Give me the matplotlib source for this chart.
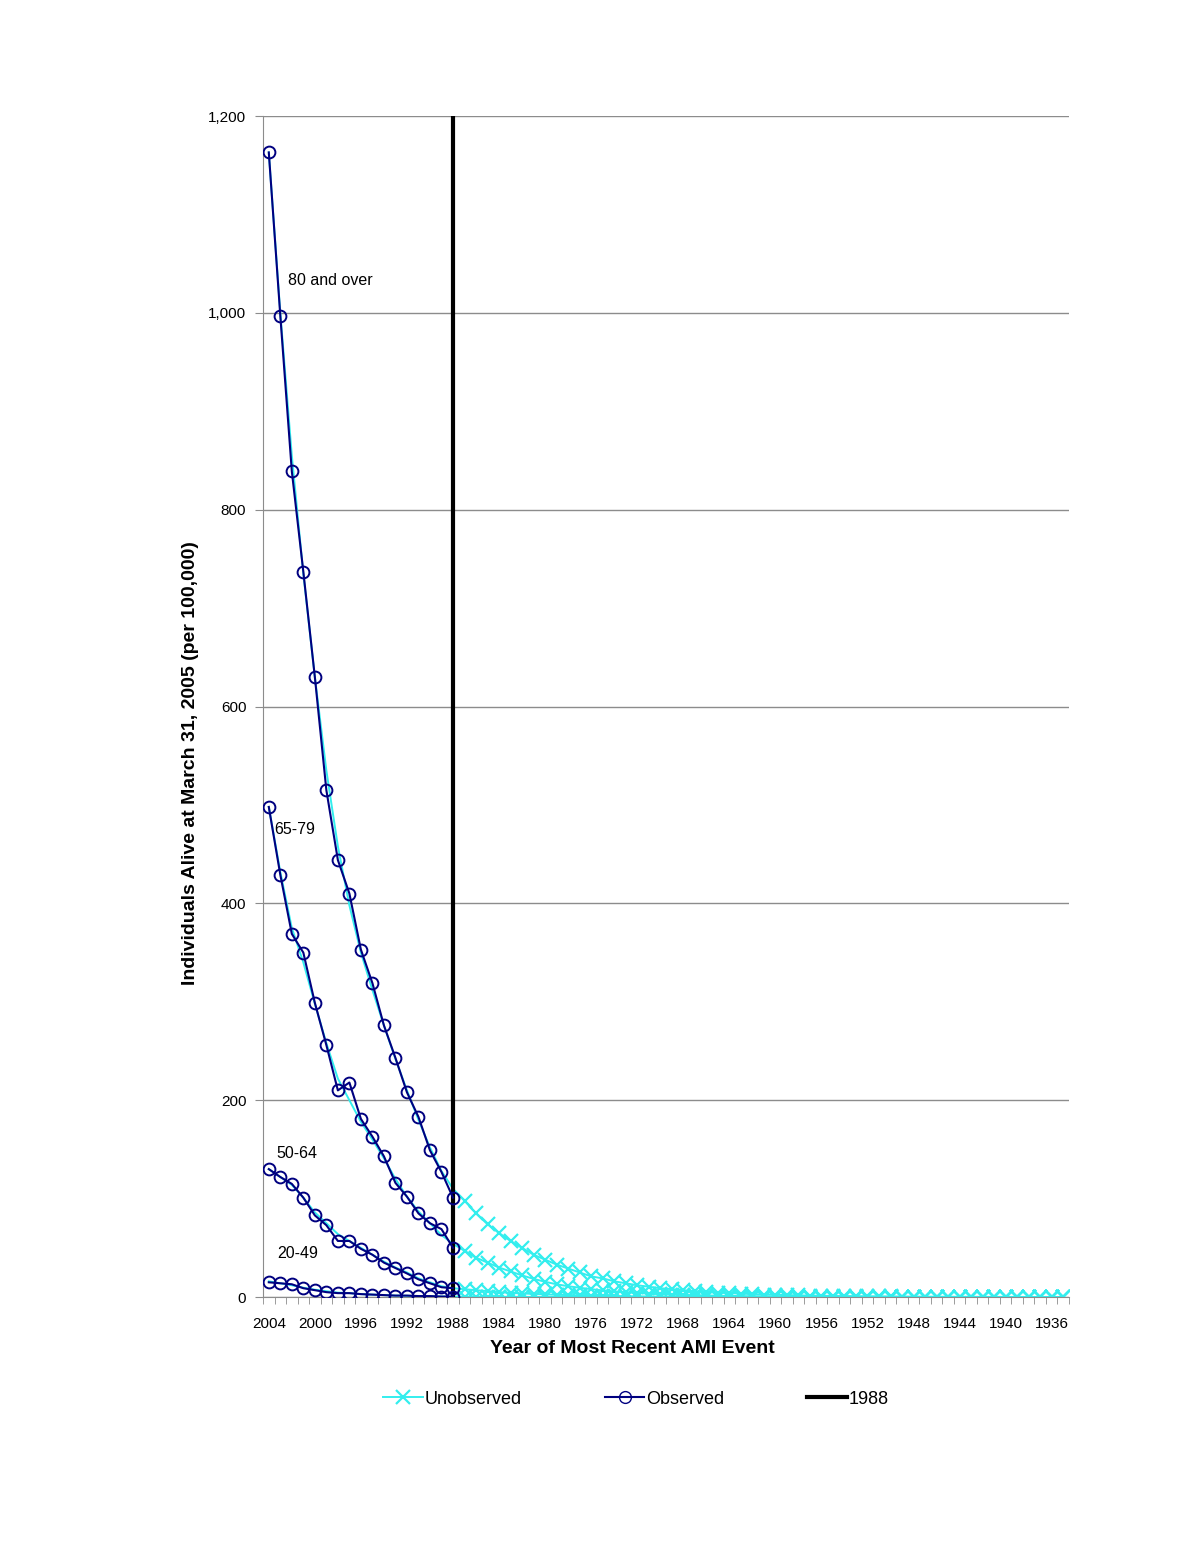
import matplotlib
matplotlib.use("Agg")
import matplotlib.pyplot as plt
from matplotlib.lines import Line2D
from matplotlib.ticker import FuncFormatter, FixedLocator

plt.rcParams["font.family"] = ["Liberation Sans", "DejaVu Sans"]

# ── Data ───────────────────────────────────────────────────────────────────────
YEARS = list(range(2004, 1934, -1))          # 2004 .. 1935, one category each
OBS_YEARS = list(range(2004, 1987, -1))      # observed 2004 .. 1988
CUTOFF_YEAR = 1988

GROUPS = ["80 and over", "65-79", "50-64", "20-49"]

# observed rates, 2004 -> 1988
obs_80 = [1163, 997, 839, 737, 630, 515, 444, 410, 353, 319, 276, 243, 208, 183, 149, 127, 101]
obs_65 = [498, 429, 369, 350, 299, 256, 210, 218, 181, 163, 143, 116, 102, 85, 75, 69, 50]
obs_50 = [130, 122, 115, 101, 83, 73, 57, 57, 49, 43, 35, 29.5, 24, 18, 14, 10, 9]
obs_20 = [15, 14, 13, 9, 7, 5, 4, 4, 3, 2.5, 2, 1.5, 1.5, 1, 1, 0.5, 0.5]

# fitted curve over the observed years, 2004 -> 1988
fit_80 = [1163, 1000, 855, 735, 630, 535, 458, 398, 350, 312, 276, 242, 210, 180, 152, 128, 110]
fit_65 = [498, 432, 375, 340, 298, 258, 222, 200, 178, 160, 141, 120, 102, 87, 75, 63, 54]
fit_50 = [130, 122, 114, 101, 86, 75, 64, 57, 50, 43, 36, 30, 25, 19, 15, 11, 9]
fit_20 = [16, 14, 12, 9.5, 7.5, 6, 4.5, 4, 3, 2.5, 2, 1.5, 1.3, 1, 0.8, 0.6, 0.5]

# unobserved (fitted) rates, 1987 -> 1935
unobs_80 = [98, 85, 74, 65, 57, 50, 43, 38, 33, 29,
            25, 21, 19, 16, 14, 12, 10.5, 9, 8, 7,
            6, 5.2, 4.5, 4, 3.5, 3, 2.6, 2.3, 2, 1.7,
            1.5, 1.3, 1.1, 1, 0.9, 0.8, 0.7, 0.6, 0.5, 0.45,
            0.4, 0.35, 0.3, 0.27, 0.24, 0.21, 0.18, 0.16, 0.14, 0.12,
            0.1, 0.09, 0.08]
unobs_65 = [47, 40, 35, 30, 26, 22, 18.5, 15.5, 13, 11,
            9.5, 8, 6.8, 5.8, 5, 4.2, 3.6, 3, 2.6, 2.2,
            1.9, 1.6, 1.4, 1.2, 1, 0.85, 0.72, 0.62, 0.53, 0.45,
            0.38, 0.33, 0.28, 0.24, 0.2, 0.17, 0.15, 0.13, 0.11, 0.09,
            0.08, 0.07, 0.06, 0.05, 0.04, 0.035, 0.03, 0.025, 0.02, 0.018,
            0.015, 0.013, 0.011]
unobs_50 = [8, 7, 6, 5, 4.3, 3.7, 3.2, 2.7, 2.3, 2,
            1.7, 1.4, 1.2, 1, 0.85, 0.72, 0.6, 0.5, 0.43, 0.36,
            0.3, 0.26, 0.22, 0.18, 0.15, 0.13, 0.11, 0.09, 0.08, 0.07,
            0.06, 0.05, 0.04, 0.035, 0.03, 0.025, 0.02, 0.017, 0.014, 0.012,
            0.01, 0.008, 0.007, 0.006, 0.005, 0.004, 0.0035, 0.003, 0.0025, 0.002,
            0.0017, 0.0014, 0.0012]
unobs_20 = [0.4, 0.35, 0.3, 0.26, 0.22, 0.19, 0.16, 0.14, 0.12, 0.1,
            0.09, 0.08, 0.07, 0.06, 0.05, 0.045, 0.04, 0.035, 0.03, 0.025,
            0.02, 0.018, 0.016, 0.014, 0.012, 0.01, 0.009, 0.008, 0.007, 0.006,
            0.005, 0.0045, 0.004, 0.0035, 0.003, 0.0027, 0.0024, 0.0021, 0.0018, 0.0016,
            0.0014, 0.0012, 0.001, 0.0009, 0.0008, 0.0007, 0.0006, 0.0005, 0.0004, 0.0003,
            0.0003, 0.0002, 0.0002]

OBSERVED = [obs_80, obs_65, obs_50, obs_20]
FITTED = [fit_80 + unobs_80, fit_65 + unobs_65, fit_50 + unobs_50, fit_20 + unobs_20]

# label anchor: (category offset, value)
LABEL_POS = [(1.67, 1033), (0.46, 475), (0.63, 146), (0.7, 44)]

CYAN = "#33EEEE"
NAVY = "#000080"
GRID = "#8c8c8c"

# ── Plot ───────────────────────────────────────────────────────────────────────
fig = plt.figure(figsize=(12, 15.53), dpi=100)
ax = fig.add_axes([0.2192, 0.1648, 0.6716, 0.7605])

x_all = list(range(len(YEARS)))
x_obs = list(range(len(OBS_YEARS)))
n_obs = len(OBS_YEARS)

for fitted in FITTED:
    ax.plot(x_all, fitted, color=CYAN, lw=1.4, marker="x", ms=10, mew=1.6,
            markevery=list(range(n_obs, len(x_all))), zorder=2)

ax.axvline(YEARS.index(CUTOFF_YEAR), color="black", lw=3, zorder=3)

for obs in OBSERVED:
    ax.plot(x_obs, obs, color=NAVY, lw=1.5, marker="o", ms=8.5, mfc="none",
            mec=NAVY, mew=1.4, zorder=4)

for name, (dx, val) in zip(GROUPS, LABEL_POS):
    ax.text(dx, val, name, fontsize=11.5, ha="left", va="center", zorder=5)

ax.set_xlim(-0.5, len(YEARS) - 0.5)
ax.set_ylim(0, 1200)
ax.set_yticks(range(0, 1201, 200))
ax.yaxis.set_major_formatter(FuncFormatter(lambda v, p: f"{int(v):,}"))
ax.yaxis.grid(True, color=GRID, lw=1)
ax.set_axisbelow(True)

label_idx = [i for i, y in enumerate(YEARS) if y % 4 == 0]
ax.set_xticks(label_idx)
ax.set_xticklabels([str(YEARS[i]) for i in label_idx])
ax.xaxis.set_minor_locator(FixedLocator([i - 0.5 for i in range(len(YEARS) + 1)]))
ax.tick_params(axis="x", which="major", length=0, labelsize=11, pad=14)
ax.tick_params(axis="x", which="minor", length=5, color=GRID, direction="out")
ax.tick_params(axis="y", length=6, color=GRID, labelsize=11, pad=6)

for side in ["top", "right"]:
    ax.spines[side].set_visible(False)
for side in ["left", "bottom"]:
    ax.spines[side].set_color(GRID)

ax.set_xlabel("Year of Most Recent AMI Event", fontsize=14, fontweight="bold")
ax.xaxis.set_label_coords(0.458, -0.036)
ax.set_ylabel("Individuals Alive at March 31, 2005 (per 100,000)", fontsize=14,
              fontweight="bold")
ax.yaxis.set_label_coords(-0.079, 0.452)

handles = [
    Line2D([], [], color=CYAN, lw=1.4, marker="x", ms=10, mew=1.6),
    Line2D([], [], color=NAVY, lw=1.5, marker="o", ms=8.5, mfc="none", mec=NAVY),
    Line2D([], [], color="black", lw=3),
]
fig.legend(handles, ["Unobserved", "Observed", "1988"], loc="center",
           bbox_to_anchor=(0.53, 0.099), ncol=3, frameon=False, fontsize=13,
           handlelength=2.2, handletextpad=0.1, columnspacing=4.6)

fig.savefig("out.png", dpi=100)
